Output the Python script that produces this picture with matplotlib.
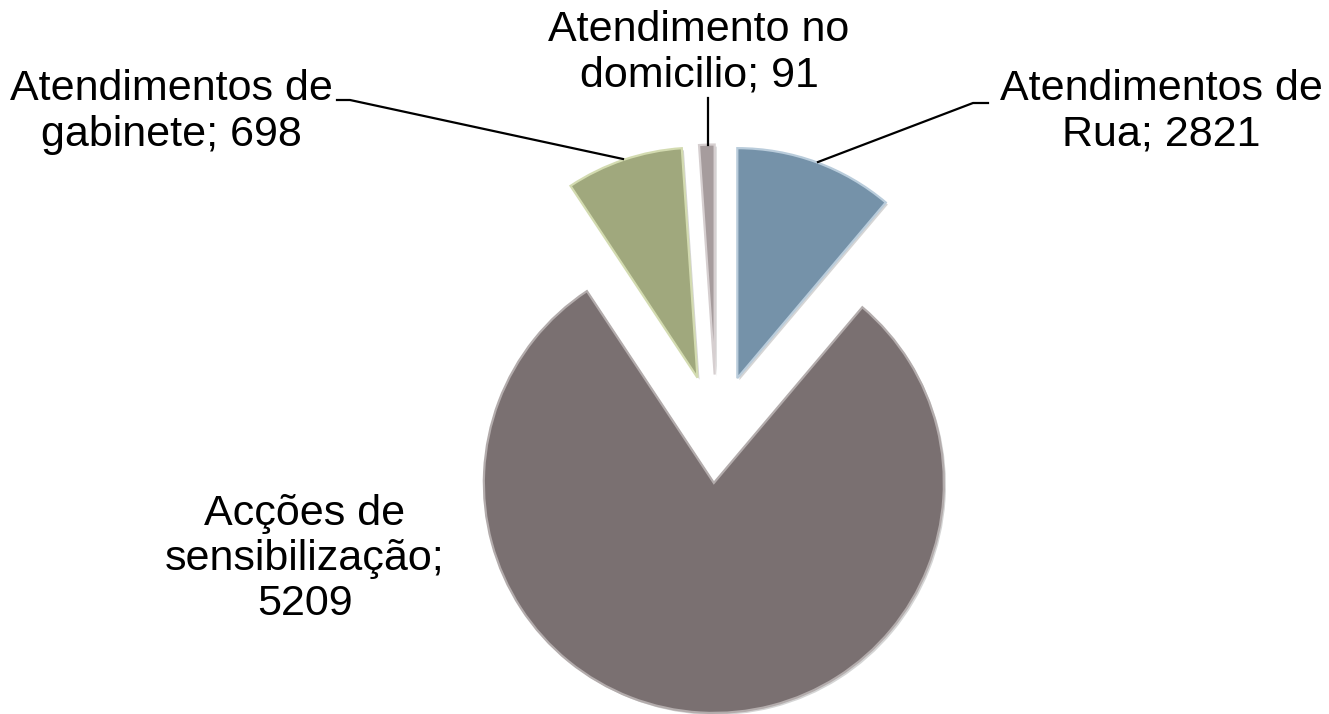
import matplotlib
matplotlib.use("Agg")
import matplotlib.pyplot as plt
import matplotlib.patheffects as pe

# ---- data ----
categories = ["Atendimentos de\nRua", "Acções de\nsensibilização", "Atendimentos de\ngabinete", "Atendimento no\ndomicilio"]
label_values = [2821, 5209, 698, 91]
# slice sizes as drawn in the picture (degrees of arc)
slice_degrees = [40.2, 286.3, 29.6, 3.9]
colors = ["#7592A9", "#7A7071", "#A0A87D", "#A69C9D"]
edge_colors = ["#B9CCDB", "#B3ACAC", "#D3DBB0", "#D6CFD0"]

W, H = 1329, 714
fig = plt.figure(figsize=(W / 100, H / 100), dpi=100)
ax = fig.add_axes([0, 0, 1, 1])

R = 230
cx, cy = 716.7, H - 434.5
explode = [60, 48.5, 60, 60]

wedges, _ = ax.pie(slice_degrees, colors=colors, startangle=90, counterclock=False,
                   radius=R, center=(cx, cy), explode=explode,
                   wedgeprops=dict(linewidth=1.6))
for w, ec in zip(wedges, edge_colors):
    w.set_edgecolor(ec)
    w.set_path_effects([pe.SimplePatchShadow(offset=(1.5, -1.5), shadow_rgbFace="#888888", alpha=0.35),
                        pe.Normal()])

ax.set_xlim(0, W)
ax.set_ylim(0, H)
ax.set_aspect("equal")
ax.axis("off")

font = dict(family=["Liberation Sans", "DejaVu Sans"], fontsize=31, color="black")

labels = [
    f"Atendimentos de\nRua; {label_values[0]}",
    f"Acções de\nsensibilização;\n{label_values[1]}",
    f"Atendimentos de\ngabinete; {label_values[2]}",
    f"Atendimento no\ndomicilio; {label_values[3]}",
]
label_pos = [(1161, H - 112), (305, H - 559), (171, H - 112), (699, H - 53)]
for txt, (x, y) in zip(labels, label_pos):
    ax.text(x, y, txt, ha="center", va="center", linespacing=1.17, **font)

# leader lines
ax.plot([988, 973, 818], [H - 103, H - 103, H - 162], color="black", lw=1.6)
ax.plot([337, 350, 623], [H - 100, H - 100, H - 159], color="black", lw=1.6)
ax.plot([708, 708], [H - 98, H - 145], color="black", lw=1.6)

fig.savefig("out.png", dpi=100, facecolor="white")
